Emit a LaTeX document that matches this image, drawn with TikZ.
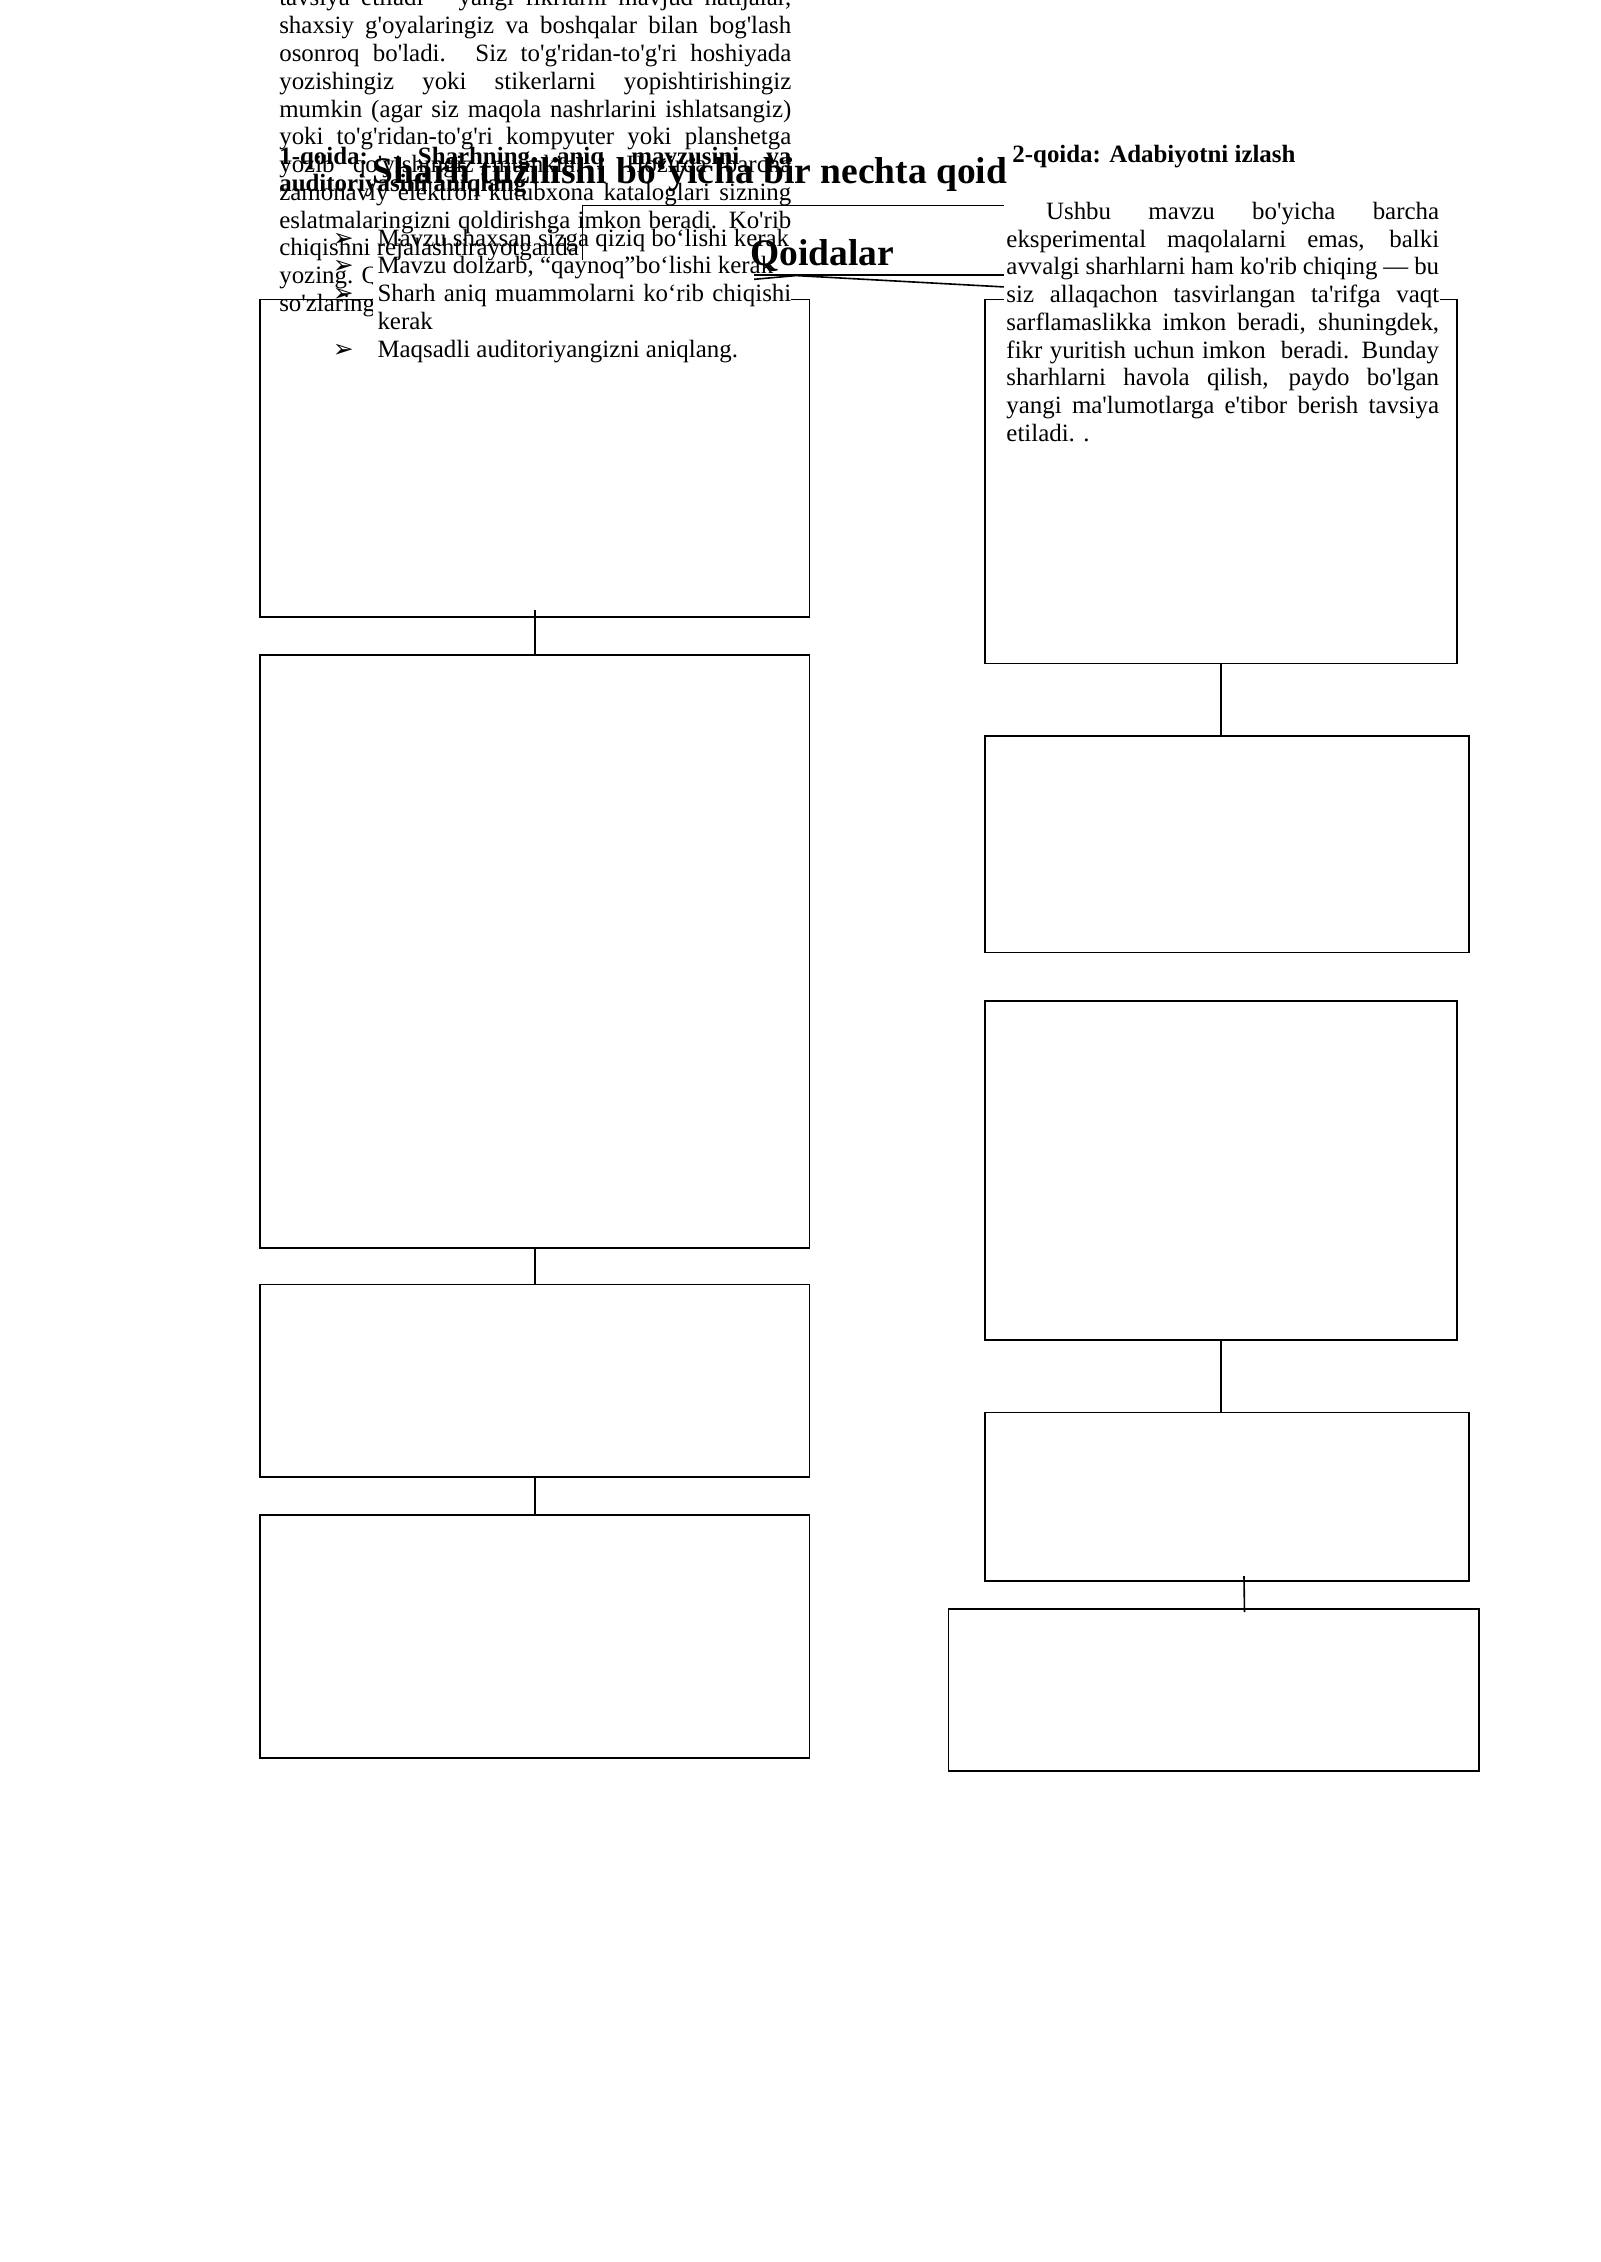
\documentclass[tikz,border=0pt]{standalone}
\usepackage{fontspec}
\setmainfont{Liberation Serif}[Ligatures=TeXOff]
\newfontfamily\dingfont{DejaVu Sans}
\usetikzlibrary{fit,calc}

\tikzset{
  box/.style={draw,line width=0.6pt,inner sep=0pt},
  link/.style={line width=0.6pt},
  txt/.style={anchor=base west,inner sep=0pt,font=\fontsize{9.3}{10.46}\selectfont},
  btxt/.style={txt,font=\fontsize{9.3}{10.46}\selectfont\bfseries},
  bigtxt/.style={anchor=base west,inner sep=0pt,font=\fontsize{14}{16}\selectfont\bfseries}
}
\newcommand\jl[2]{\makebox[#1][s]{#2}}

\begin{document}
\begin{tikzpicture}[x=0.01302cm,y=-0.01302cm]
  \useasboundingbox (0,0) rectangle (1612.9,2280.2);
  \clip (0,0) rectangle (1612.9,2280.2);

  % left column boxes
  \node[box,fit={(262,302) (816,622)}] (L1) {};
  \node[box,fit={(262,660) (816,1258)}] (L2) {};
  \node[box,fit={(262,1295) (816,1489)}] (L3) {};
  \node[box,fit={(262,1527) (816,1772)}] (L4) {};
  % right column boxes
  \node[box,fit={(993,302) (1469,669)}] (R1) {};
  \node[box,fit={(993,742) (1481,960)}] (R2) {};
  \node[box,fit={(993,1009) (1469,1351)}] (R3) {};
  \node[box,fit={(993,1424) (1481,1594)}] (R4) {};
  \node[box,fit={(956,1622) (1491,1785)}] (R5) {};
  % title box
  \node[box,fit={(587,207) (1018,277)}] (qbox) {};

  \path[link,draw]
    ($(L1.south)+(0,-8)$) edge (L2.north)
    (L2.south) edge (L3.north)
    (L3.south) edge (L4.north)
    (R1.south) edge (R1.south |- R2.north)
    (R3.south) edge (R3.south |- R4.north)
    ($(R4.south)+(17,-6)$) edge ($(R5.north)+(31,4)$)
    (qbox.south) edge (L1.north)
    (qbox.south) edge (R1.north);

  % left text
  \foreach \lntext [count=\i from 0] in {
      {tavsiya etiladi – yangi fikrlarni mavjud natijalar,},
      {shaxsiy g'oyalaringiz va boshqalar bilan bog'lash},
      {osonroq bo'ladi. Siz to'g'ridan-to'g'ri hoshiyada},
      {yozishingiz yoki stikerlarni yopishtirishingiz},
      {mumkin (agar siz maqola nashrlarini ishlatsangiz)},
      {yoki to'g'ridan-to'g'ri kompyuter yoki planshetga},
      {yozib qo'yishingiz mumkin. Hozirda barcha},
      {zamonaviy elektron kutubxona kataloglari sizning},
      {eslatmalaringizni qoldirishga imkon beradi. Ko'rib}}
    \node[txt] (lp\i) at (281,{6+28*\i}) {\jl{6.718cm}{\lntext}};
  \node[txt] (lp9) at (281,258) {chiqishni rejalashtirayotganda};
  \node[txt] (lp10) at (281,286) {yozing. Q};
  \node[txt] (lp11) at (281,314) {so'zlaringi};

  \node[btxt] (rule1) at (281,166) {\jl{6.718cm}{1-qoida: Sharhning aniq mavzusini va}};
  \node[btxt] (rule1b) at (281,193) {auditoriyasini aniqlang};

  % bullets
  \fill[white] (376,262) rectangle (760,290);
  \fill[white] (376,290) rectangle (797,370);
  \foreach \y/\b in {248/1,276/2,304/3,360/4}
    \node[txt] (arr\b) at (335,\y) {\dingfont\fontsize{9.3}{10}\selectfont ➢};
  \node[txt] (b1) at (380,248) {Mavzu shaxsan sizga qiziq bo‘lishi kerak};
  \node[txt] (b2) at (380,276) {Mavzu dolzarb, “qaynoq”bo‘lishi kerak};
  \node[txt] (b3) at (380,304) {\jl{5.429cm}{Sharh aniq muammolarni ko‘rib chiqishi}};
  \node[txt] (b3b) at (380,332) {kerak};
  \node[txt] (b4) at (380,360) {Maqsadli auditoriyangizni aniqlang.};

  % right text
  \fill[white] (1012,140) rectangle (1452,452);
  \node[btxt] (rule2) at (1020,164) {2-qoida: Adabiyotni izlash};
  \foreach \lntext [count=\i from 0] in {
      {\hspace*{0.52cm}Ushbu mavzu bo'yicha barcha},
      {eksperimental maqolalarni emas, balki},
      {avvalgi sharhlarni ham ko'rib chiqing — bu},
      {siz allaqachon tasvirlangan ta'rifga vaqt},
      {sarflamaslikka imkon beradi, shuningdek,},
      {fikr yuritish uchun imkon\ \ beradi. Bunday},
      {sharhlarni havola qilish, paydo bo'lgan},
      {yangi ma'lumotlarga e'tibor berish tavsiya}}
    \node[txt] (rp\i) at (1014,{221+28*\i}) {\jl{5.677cm}{\lntext}};
  \node[txt] (rp8) at (1014,445) {etiladi. .};

  \node[bigtxt] (title) at (375,185) {Sharh tuzilishi bo‘yicha bir nechta qoid};
  \node[bigtxt,anchor=base] (qtext) at (829,268) {Qoidalar};
\end{tikzpicture}
\end{document}
